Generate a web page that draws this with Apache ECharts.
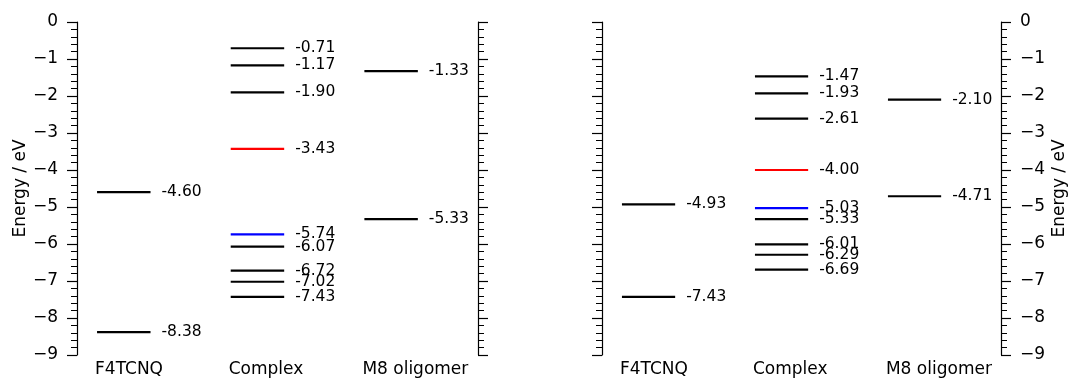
<!DOCTYPE html>
<html>
<head>
<meta charset="utf-8">
<script src="https://cdn.jsdelivr.net/npm/echarts@6/dist/echarts.min.js"></script>
<style>
  html, body { margin: 0; padding: 0; background: #fff; }
  #chart { width: 1069px; height: 378px; }
</style>
</head>
<body>
<div id="chart"></div>
<script>
// Column names shared by both diagrams
const columns = ['F4TCNQ', 'Complex', 'M8 oligomer'];

// Energy levels (eV), left diagram
const f4tcnqLeft = [-4.60, -8.38];
const complexLeft = [-0.71, -1.17, -1.90, -3.43, -5.74, -6.07, -6.72, -7.02, -7.43];
const m8Left = [-1.33, -5.33];

// Energy levels (eV), right diagram
const f4tcnqRight = [-4.93, -7.43];
const complexRight = [-1.47, -1.93, -2.61, -4.00, -5.03, -5.33, -6.01, -6.29, -6.69];
const m8Right = [-2.10, -4.71];

// Energy axis ticks
const energyTicks = [0, -1, -2, -3, -4, -5, -6, -7, -8, -9];

// Complex levels drawn in colour (index into the complex arrays)
const redLevel = 3;
const blueLevel = 4;

const FONT = 'DejaVu Sans';
const HALF = 0.2;          // half width of a level bar, in column units
const LABEL_SHIFT = 0.215; // column names start just left of the bars

function levelSeries(xAxisIndex, yAxisIndex, col, values, colorOf) {
  return {
    type: 'custom',
    xAxisIndex, yAxisIndex,
    data: values.map(v => [col, v]),
    renderItem(params, api) {
      const x = api.value(0), y = api.value(1);
      const a = api.coord([x - HALF, y]);
      const b = api.coord([x + HALF, y]);
      return {
        type: 'group',
        children: [
          { type: 'line', shape: { x1: a[0], y1: a[1], x2: b[0], y2: b[1] },
            style: { stroke: colorOf(params.dataIndex), lineWidth: 2.2 } },
          { type: 'text', x: b[0] + 11, y: b[1],
            style: { text: y.toFixed(2), fill: '#000', font: '15.5px "' + FONT + '"',
                     verticalAlign: 'middle', align: 'left' } }
        ]
      };
    }
  };
}

const black = () => '#000';
const complexColor = i => i === redLevel ? '#ff0000' : (i === blueLevel ? '#0000ff' : '#000');

function xAxisFor(gridIndex) {
  return {
    type: 'value', gridIndex, min: -0.35, max: 2.65,
    axisLine: { show: false }, axisTick: { show: false }, splitLine: { show: false },
    axisLabel: {
      customValues: columns.map((_, i) => i - LABEL_SHIFT),
      formatter: v => columns[Math.round(v + LABEL_SHIFT)],
      align: 'left', margin: 6, color: '#000', fontSize: 17, fontFamily: FONT
    }
  };
}

function yAxisFor(gridIndex, position, withLabels) {
  const ax = {
    type: 'value', gridIndex, position,
    min: energyTicks[energyTicks.length - 1], max: energyTicks[0], interval: 1,
    axisLine: { show: true, onZero: false, lineStyle: { color: '#000', width: 1.2 } },
    axisTick: { show: true, inside: false, length: 10, lineStyle: { color: '#000', width: 1.2 } },
    minorTick: { show: true, splitNumber: 5, length: 6, lineStyle: { color: '#000', width: 1 } },
    splitLine: { show: false },
    axisLabel: { show: withLabels, margin: 19, color: '#000', fontSize: 17, fontFamily: FONT,
                 formatter: v => String(v).replace('-', '\u2212') }
  };
  if (withLabels) {
    Object.assign(ax, {
      name: 'Energy / eV', nameLocation: 'middle', nameRotate: 90,
      nameGap: position === 'left' ? 48 : 50,
      nameTextStyle: { color: '#000', fontSize: 17, fontFamily: FONT }
    });
  }
  return ax;
}

const chart = echarts.init(document.getElementById('chart'), null, { renderer: 'canvas' });
chart.setOption({
  animation: false,
  backgroundColor: '#fff',
  grid: [
    { left: 77, right: 591, top: 22, bottom: 21 },
    { left: 602, right: 67, top: 22, bottom: 21 }
  ],
  xAxis: [xAxisFor(0), xAxisFor(1)],
  yAxis: [
    yAxisFor(0, 'left', true),
    yAxisFor(0, 'right', false),
    yAxisFor(1, 'left', false),
    yAxisFor(1, 'right', true)
  ],
  series: [
    levelSeries(0, 0, 0, f4tcnqLeft, black),
    levelSeries(0, 0, 1, complexLeft, complexColor),
    levelSeries(0, 0, 2, m8Left, black),
    levelSeries(1, 2, 0, f4tcnqRight, black),
    levelSeries(1, 2, 1, complexRight, complexColor),
    levelSeries(1, 2, 2, m8Right, black)
  ]
});
</script>
</body>
</html>
